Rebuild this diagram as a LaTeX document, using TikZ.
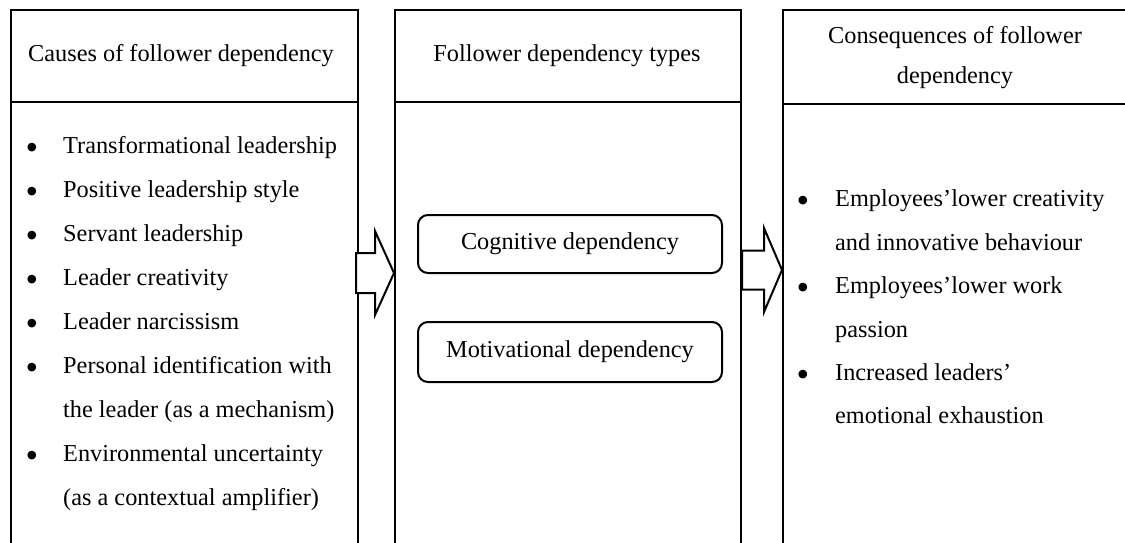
\documentclass[tikz,border=0pt]{standalone}
\usepackage{fontspec}
\setmainfont{Liberation Serif}
\usetikzlibrary{calc}
\begin{document}
\begin{tikzpicture}[x=1pt,y=-1pt,
  every node/.style={font=\fontsize{24.3pt}{28pt}\selectfont, inner sep=0pt},
  colbox/.style={draw, line width=2pt, anchor=north west, minimum height=560pt},
  rule/.style={line width=2pt},
  typebox/.style={draw, line width=2pt, rounded corners=10pt, minimum width=304pt},
  blockarrow/.style={draw, line width=2pt, line join=miter, fill=white},
  item/.style={anchor=base west},
  dot/.style={anchor=base, yshift=-6pt, font=\fontsize{36pt}{36pt}\selectfont}]
\useasboundingbox (0,0) rectangle (1125,542);
\clip (0,0) rectangle (1125,542);
% columns
\node[colbox, minimum width=347pt] (L) at (10,9) {};
\node[colbox, minimum width=346pt] (M) at (394,9) {};
\node[colbox, minimum width=346pt] (R) at (782,9) {};
\coordinate (hl) at (0,102);
\coordinate (hr) at (0,104);
\draw[rule] (L.west |- hl) -- (L.east |- hl);
\draw[rule] (M.west |- hl) -- (M.east |- hl);
\draw[rule] (R.west |- hr) -- (R.east |- hr);
% headers
\node[item] (Lh) at (28,61) {Causes of follower dependency};
\node[anchor=base] (Mh) at (567,61) {Follower dependency types};
\node[anchor=base] (Rh1) at (955,43) {Consequences of follower};
\node[anchor=base] (Rh2) at (955,83) {dependency};
% left list
\node[dot] (lb1) at (32,153) {\textbullet};
\node[item] (l1) at (63,153) {Transformational leadership};
\node[dot] (lb2) at (32,197) {\textbullet};
\node[item] (l2) at (63,197) {Positive leadership style};
\node[dot] (lb3) at (32,241) {\textbullet};
\node[item] (l3) at (63,241) {Servant leadership};
\node[dot] (lb4) at (32,285) {\textbullet};
\node[item] (l4) at (63,285) {Leader creativity};
\node[dot] (lb5) at (32,329) {\textbullet};
\node[item] (l5) at (63,329) {Leader narcissism};
\node[dot] (lb6) at (32,373) {\textbullet};
\node[item] (l6) at (63,373) {Personal identification with};
\node[item] (l7) at (63,417) {the leader (as a mechanism)};
\node[dot] (lb8) at (32,461) {\textbullet};
\node[item] (l8) at (63,461) {Environmental uncertainty};
\node[item] (l9) at (63,505) {(as a contextual amplifier)};
% middle types
\node[typebox, minimum height=58pt] (cog) at (570,244) {Cognitive dependency};
\node[typebox, minimum height=60pt] (mot) at (570,352) {Motivational dependency};
% right list
\node[dot] (rb1) at (803,206) {\textbullet};
\node[item] (r1) at (835,206) {Employees’lower creativity};
\node[item] (r2) at (835,250) {and innovative behaviour};
\node[dot] (rb3) at (803,293) {\textbullet};
\node[item] (r3) at (835,293) {Employees’lower work};
\node[item] (r4) at (835,337) {passion};
\node[dot] (rb5) at (803,380) {\textbullet};
\node[item] (r5) at (835,380) {Increased leaders’};
\node[item] (r6) at (835,423) {emotional exhaustion};
% block arrows between columns
\coordinate (ya) at (0,273);
\coordinate (yb) at (0,270);
\path (L.east |- ya) coordinate (a1s) (M.west |- ya) coordinate (a1t);
\path (M.east |- yb) coordinate (a2s) (R.west |- yb) coordinate (a2t);
\draw[blockarrow] ($(a1s)+(-3,-20)$) -- ($(a1s)+(16,-20)$) -- ($(a1s)+(16,-42)$) -- (a1t)
  -- ($(a1s)+(16,42)$) -- ($(a1s)+(16,20)$) -- ($(a1s)+(-3,20)$) -- cycle;
\draw[blockarrow] ($(a2s)+(0,-19.5)$) -- ($(a2s)+(22,-19.5)$) -- ($(a2s)+(22,-42)$) -- (a2t)
  -- ($(a2s)+(22,42)$) -- ($(a2s)+(22,19.5)$) -- ($(a2s)+(0,19.5)$) -- cycle;
\end{tikzpicture}
\end{document}
